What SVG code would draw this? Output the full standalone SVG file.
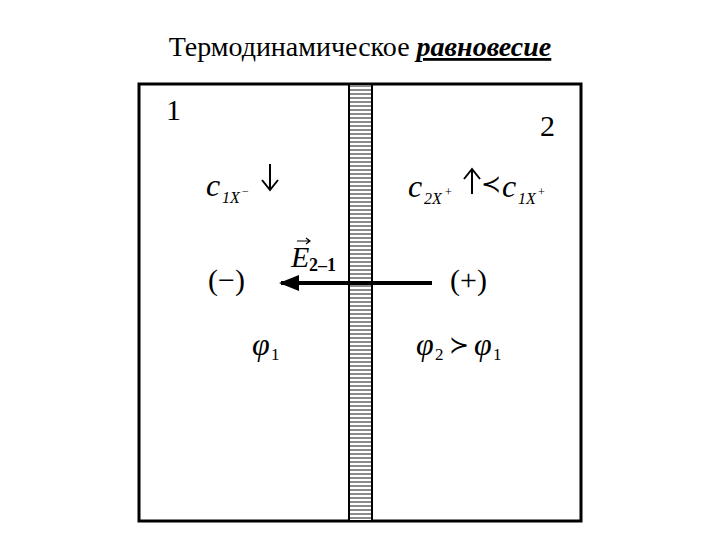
<svg xmlns="http://www.w3.org/2000/svg" width="720" height="540" viewBox="0 0 720 540">
<defs>
<style>
.t{font-family:"Liberation Serif",serif;fill:#000}
.i{font-style:italic}
.ar{stroke:#000;stroke-width:2;fill:none}
</style>
<pattern id="st" x="0" y="84" width="24" height="4" patternUnits="userSpaceOnUse">
<rect width="24" height="4" fill="#fff"/><rect y="1" width="24" height="2" fill="#8a8a8a"/>
</pattern>
<marker id="ah" markerWidth="5" markerHeight="4" refX="4.5" refY="2" orient="auto"><path d="M0,0 L5,2 L0,4 Z" fill="#000"/></marker>
</defs>
<rect width="720" height="540" fill="#fff"/>
<text class="t" x="360" y="56" font-size="28" text-anchor="middle">Термодинамическое <tspan class="i" font-weight="bold" text-decoration="underline">равновесие</tspan></text>
<g id="box"><rect x="139" y="84" width="442" height="437" fill="none" stroke="#000" stroke-width="3"/></g>
<g id="membrane"><rect x="349" y="84" width="23" height="437" fill="url(#st)" stroke="#000" stroke-width="2"/></g>
<g id="region1">
<text class="t" x="166" y="120" font-size="30">1</text>
<text class="t i" x="206" y="196" font-size="32">c</text>
<text class="t i" x="222" y="203" font-size="16">1X</text><text class="t" x="242" y="195" font-size="12">−</text>
<path class="ar" d="M270,164 V189 M262,180 L270,190 L278,180"/>
<text class="t" x="208" y="290" font-size="30">(−)</text>
<text class="t i" x="252" y="355" font-size="32">φ</text><text class="t" x="271" y="360" font-size="17">1</text>
</g>
<g id="region2">
<text class="t" x="540" y="136" font-size="30">2</text>
<text class="t i" x="408" y="197" font-size="32">c</text>
<text class="t i" x="424" y="204" font-size="16">2X</text><text class="t" x="445" y="196" font-size="12">+</text>
<path class="ar" d="M472,194 V170 M464,179 L472,169 L480,179"/>
<text class="t" x="481" y="192" font-size="24">≺</text>
<text class="t i" x="502" y="197" font-size="32">c</text>
<text class="t i" x="518" y="204" font-size="16">1X</text><text class="t" x="538" y="196" font-size="12">+</text>
<text class="t" x="450" y="290" font-size="30">(+)</text>
<text class="t i" x="416" y="355" font-size="32">φ</text><text class="t" x="435" y="360" font-size="17">2</text>
<text class="t" x="449" y="353" font-size="24">≻</text>
<text class="t i" x="474" y="355" font-size="32">φ</text><text class="t" x="493" y="360" font-size="17">1</text>
</g>
<g id="connectors">
<line x1="432" y1="283" x2="281" y2="283" stroke="#000" stroke-width="4" marker-end="url(#ah)"/>
</g>
<g id="field">
<text class="t i" x="291" y="267" font-size="30">E</text>
<text class="t" x="309" y="271" font-size="18" font-weight="bold">2–1</text>
<path d="M297,241 L310,241 M306,238 L310,241 L306,244" stroke="#000" stroke-width="1.2" fill="none"/>
</g>
</svg>
